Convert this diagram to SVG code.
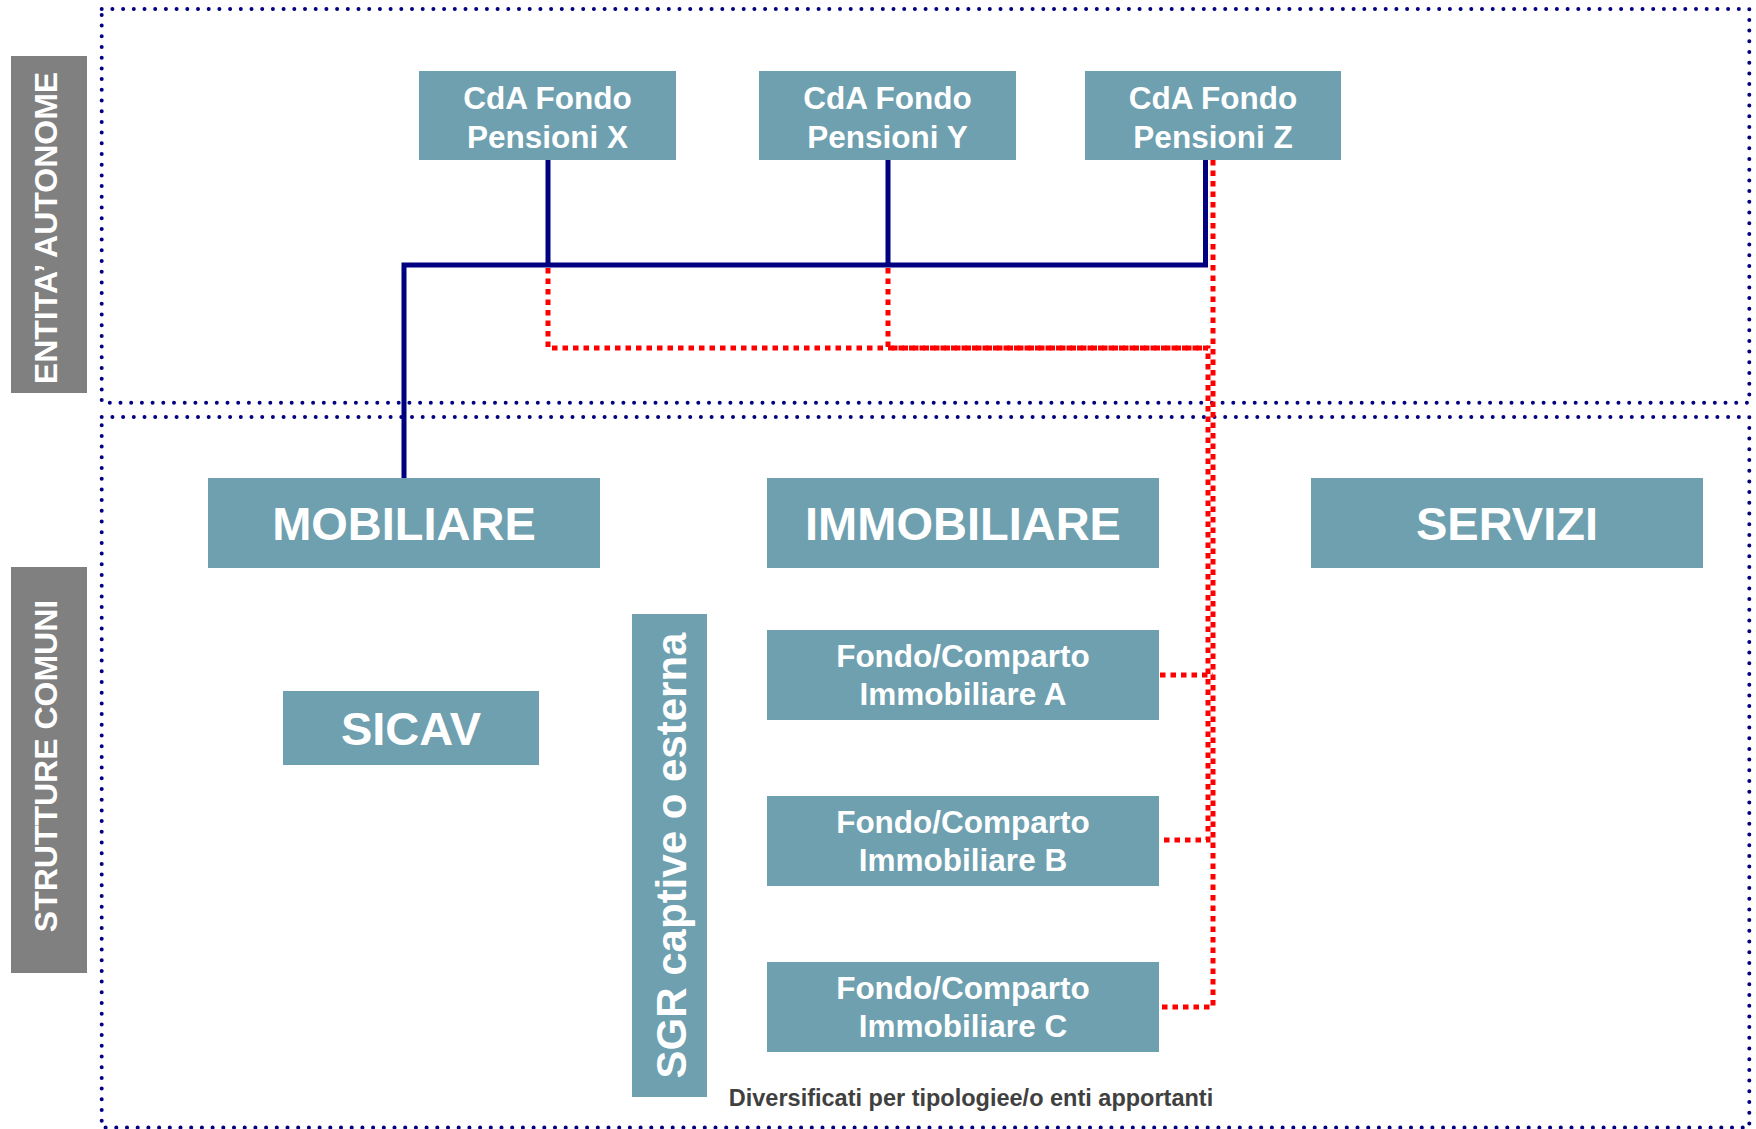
<svg xmlns="http://www.w3.org/2000/svg" width="1756" height="1129" viewBox="0 0 1756 1129">
<style>
.box{fill:#6ea0b0}
.lbl{fill:#808080}
.t{font-family:"Liberation Sans",Arial,sans-serif;font-weight:bold;fill:#ffffff;text-anchor:middle}
.big{font-size:47px}
.mid{font-size:31.5px}
.dots{fill:none;stroke:#000080;stroke-width:4;stroke-linecap:round;stroke-dasharray:0 10.7}
.blue{fill:none;stroke:#000080;stroke-width:5}
.red{fill:none;stroke:#ff0000;stroke-width:5;stroke-dasharray:5.5 5}
</style>
<rect width="1756" height="1129" fill="#ffffff"/>
<g id="frames">
<rect class="dots" x="101.7" y="9" width="1647.6" height="393.7"/>
<rect class="dots" x="101.7" y="417" width="1647.6" height="710.5"/>
</g>
<g id="label-entita">
<rect class="lbl" x="11" y="56" width="76" height="337"/>
<text class="t" font-size="32" transform="translate(57,228) rotate(-90)">ENTITA’ AUTONOME</text>
</g>
<g id="label-strutture">
<rect class="lbl" x="11" y="567" width="76" height="406"/>
<text class="t" font-size="32" transform="translate(57,766) rotate(-90)">STRUTTURE COMUNI</text>
</g>
<g id="connectors">
<path class="blue" d="M404,478 V265 H1205.5 V160"/>
<path class="blue" d="M548,160 V265"/>
<path class="blue" d="M888,160 V265"/>
<path class="red" d="M1213,160 V1007 H1160"/>
<path class="red" d="M548,268 V348 H1208 V840 H1160"/>
<path class="red" d="M888,268 V348 H1208"/>
<path class="red" d="M1160,675 H1213"/>
</g>
<g id="cda-x">
<rect class="box" x="419" y="71" width="257" height="89"/>
<text class="t mid" x="547.5" y="109">CdA Fondo</text>
<text class="t mid" x="547.5" y="148">Pensioni X</text>
</g>
<g id="cda-y">
<rect class="box" x="759" y="71" width="257" height="89"/>
<text class="t mid" x="887.5" y="109">CdA Fondo</text>
<text class="t mid" x="887.5" y="148">Pensioni Y</text>
</g>
<g id="cda-z">
<rect class="box" x="1085" y="71" width="256" height="89"/>
<text class="t mid" x="1213" y="109">CdA Fondo</text>
<text class="t mid" x="1213" y="148">Pensioni Z</text>
</g>
<g id="mobiliare">
<rect class="box" x="208" y="478" width="392" height="90"/>
<text class="t big" x="404" y="540">MOBILIARE</text>
</g>
<g id="immobiliare">
<rect class="box" x="767" y="478" width="392" height="90"/>
<text class="t big" x="963" y="540">IMMOBILIARE</text>
</g>
<g id="servizi">
<rect class="box" x="1311" y="478" width="392" height="90"/>
<text class="t big" x="1507" y="540">SERVIZI</text>
</g>
<g id="sicav">
<rect class="box" x="283" y="691" width="256" height="74"/>
<text class="t big" x="411" y="745">SICAV</text>
</g>
<g id="sgr">
<rect class="box" x="632" y="614" width="75" height="483"/>
<text class="t" font-size="42" transform="translate(686,855.5) rotate(-90)">SGR captive o esterna</text>
</g>
<g id="fondo-a">
<rect class="box" x="767" y="630" width="392" height="90"/>
<text class="t mid" x="963" y="667">Fondo/Comparto</text>
<text class="t mid" x="963" y="705">Immobiliare A</text>
</g>
<g id="fondo-b">
<rect class="box" x="767" y="796" width="392" height="90"/>
<text class="t mid" x="963" y="833">Fondo/Comparto</text>
<text class="t mid" x="963" y="871">Immobiliare B</text>
</g>
<g id="fondo-c">
<rect class="box" x="767" y="962" width="392" height="90"/>
<text class="t mid" x="963" y="999">Fondo/Comparto</text>
<text class="t mid" x="963" y="1037">Immobiliare C</text>
</g>
<g id="note">
<text x="971" y="1106" font-family="'Liberation Sans',Arial,sans-serif" font-weight="bold" font-size="23.5" fill="#404040" text-anchor="middle">Diversificati per tipologiee/o enti apportanti</text>
</g>
</svg>
